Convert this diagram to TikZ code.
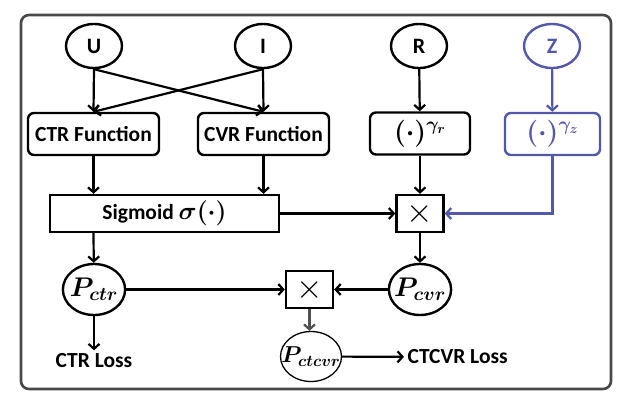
\RequirePackage{fix-cm}
\documentclass[tikz,border=0pt]{standalone}
\usepackage{amsmath}
\usepackage{fontspec}
\setmainfont{Carlito}
\usepackage{tikz}
\usetikzlibrary{arrows.meta,shapes.geometric}
\definecolor{ZBlue}{RGB}{84,88,168}
\definecolor{FrameGray}{RGB}{72,72,72}
\definecolor{ArrGray}{RGB}{80,80,80}

\begin{document}
\begin{tikzpicture}[x=1pt, y=-1pt,
        var/.style={draw, ellipse, line width=2.4pt, minimum width=56pt, minimum height=44pt,
                                inner sep=0pt, font=\fontsize{22}{24}\selectfont\bfseries},
        fn/.style={draw, rounded corners=6pt, line width=2.4pt, minimum height=42pt, inner sep=0pt,
                                font=\fontsize{21.5}{24}\selectfont\bfseries\boldmath},
        mul/.style={draw, line width=2.4pt, minimum width=47pt, minimum height=37pt, inner sep=0pt,
                                font=\fontsize{34}{36}\selectfont},
        prob/.style={draw, ellipse, line width=2.4pt, minimum width=62pt, minimum height=51pt,
                                inner sep=0pt, font=\fontsize{27}{30}\selectfont\boldmath},
        lbl/.style={font=\fontsize{21.5}{24}\selectfont\bfseries},
        arr/.style={-{Straight Barb[length=5pt,width=11pt]}, line width=2.2pt}
]
    \useasboundingbox (0,0) rectangle (628,402);
    \draw[FrameGray, line width=2.6pt, rounded corners=8pt] (21,15) rectangle (611,389);

    \node[var] (U) at (94,46)  {U};
    \node[var] (I) at (263,46) {I};
    \node[var] (R) at (419,46) {R};
    \node[var, draw=ZBlue, text=ZBlue] (Z) at (552,46) {Z};

    \node[fn, minimum width=131pt] (ctrfn) at (93.5,134)  {CTR Function};
    \node[fn, minimum width=131pt] (cvrfn) at (263.5,134) {CVR Function};
    \node[fn, minimum width=100pt, font=\fontsize{27}{30}\selectfont\boldmath] (powr) at (420,133.5)
        {$(\cdot)^{\gamma_r}$};
    \node[fn, minimum width=95pt, draw=ZBlue, text=ZBlue, font=\fontsize{27}{30}\selectfont\boldmath]
        (powz) at (552.5,134) {$(\cdot)^{\gamma_z}$};

    \node[fn, rounded corners=0pt, minimum width=229pt, minimum height=37pt] (sig) at (164.5,213.5)
        {Sigmoid {\fontsize{25}{28}\selectfont$\sigma(\cdot)$}};
    \node[mul] (mulr) at (420,213.5) {$\times$};

    \node[prob] (pctr) at (94,289.5)  {\makebox[44pt]{$P_{ctr}$}};
    \node[mul] (mulc) at (309.5,289.5) {$\times$};
    \node[prob] (pcvr) at (420,289.5) {\makebox[44pt]{$P_{cvr}$}};
    \node[prob, line width=1.3pt, minimum width=61pt, minimum height=50pt,
          font=\fontsize{23}{26}\selectfont\boldmath] (pctcvr) at (311,356.5)
        {\makebox[42pt]{$P_{ctcvr}$}};

    \node[lbl] (ctrloss) at (94,361) {CTR Loss};
    \node[lbl, anchor=west] (ctcvrloss) at (404,357) {CTCVR Loss};

    \draw[arr] (U.south) -- (ctrfn.north);
    \draw[arr] (U.south) -- (cvrfn.north);
    \draw[arr] (I.south) -- (cvrfn.north);
    \draw[arr] (I.south) -- (ctrfn.north);
    \draw[arr] (R) -- (powr);
    \draw[arr, ZBlue] (Z) -- (powz);
    \draw[arr] (ctrfn) -- (ctrfn |- sig.north);
    \draw[arr] (cvrfn) -- (cvrfn |- sig.north);
    \draw[arr] (powr) -- (mulr);
    \draw[arr] (sig) -- (mulr);
    \draw[arr, ZBlue] (powz) |- (mulr);
    \draw[arr] (ctrfn |- sig.south) -- (pctr);
    \draw[arr] (mulr) -- (pcvr);
    \draw[arr] (pctr) -- (mulc);
    \draw[arr] (pcvr) -- (mulc);
    \draw[arr, ArrGray] (mulc) -- (mulc |- pctcvr.north);
    \draw[arr] (pctr) -- (ctrloss);
    \draw[arr] (pctcvr) -- (ctcvrloss);
\end{tikzpicture}
\end{document}
